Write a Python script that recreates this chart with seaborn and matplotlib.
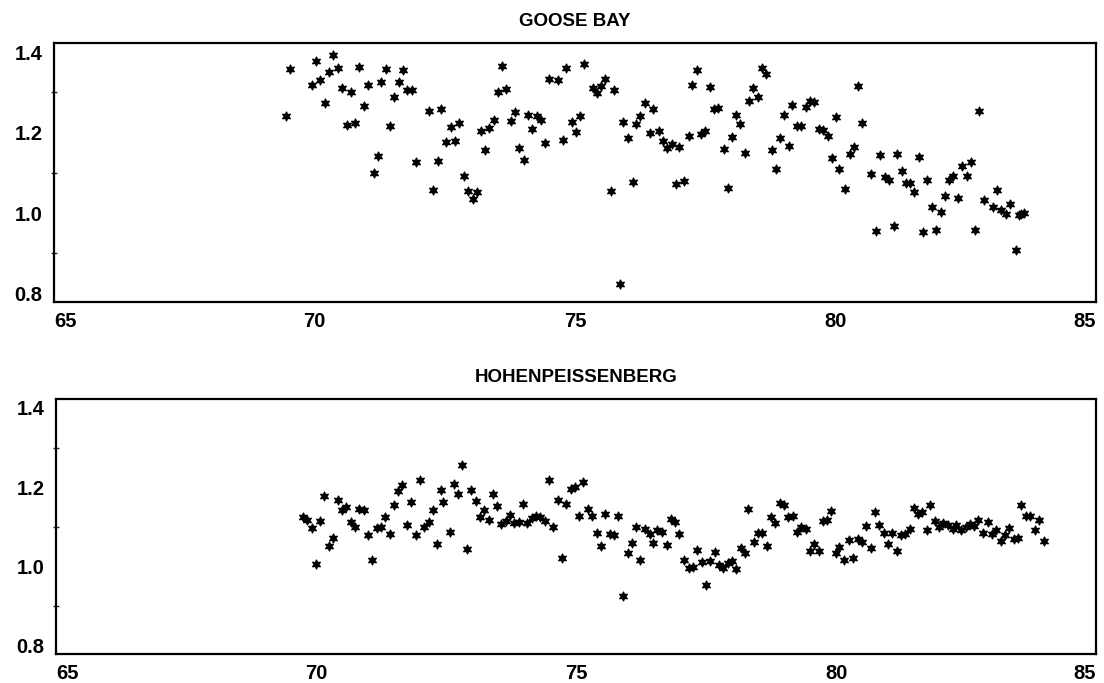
import numpy as np
import pandas as pd
import matplotlib
matplotlib.use("Agg")
import matplotlib.pyplot as plt
import seaborn as sns

# %% data (year - 1900, ratio)

goose_x = [69.45, 69.53, 69.94, 70.03, 70.11, 70.20, 70.28, 70.36, 70.44, 70.53,
           70.62, 70.70, 70.78, 70.86, 70.95, 71.03, 71.13, 71.21, 71.28, 71.36,
           71.45, 71.53, 71.61, 71.69, 71.77, 71.86, 71.95, 72.19, 72.28, 72.37,
           72.43, 72.52, 72.61, 72.69, 72.77, 72.86, 72.95, 73.03, 73.12, 73.19,
           73.27, 73.35, 73.44, 73.52, 73.59, 73.68, 73.77, 73.85, 73.93, 74.01,
           74.09, 74.18, 74.26, 74.34, 74.43, 74.50, 74.67, 74.76, 74.83, 74.93,
           75.01, 75.09, 75.16, 75.34, 75.42, 75.50, 75.58, 75.68, 75.74, 75.86,
           75.92, 76.01, 76.10, 76.17, 76.24, 76.34, 76.43, 76.50, 76.60, 76.68,
           76.76, 76.85, 76.93, 77.00, 77.09, 77.18, 77.25, 77.33, 77.42, 77.50,
           77.58, 77.67, 77.75, 77.85, 77.93, 78.01, 78.09, 78.17, 78.26, 78.34,
           78.42, 78.51, 78.59, 78.67, 78.77, 78.85, 78.93, 79.01, 79.10, 79.17,
           79.26, 79.34, 79.42, 79.50, 79.59, 79.68, 79.76, 79.85, 79.93, 80.01,
           80.06, 80.18, 80.27, 80.35, 80.43, 80.51, 80.68, 80.78, 80.85, 80.94,
           81.02, 81.11, 81.18, 81.27, 81.34, 81.43, 81.51, 81.59, 81.68, 81.76,
           81.84, 81.93, 82.02, 82.09, 82.18, 82.26, 82.35, 82.42, 82.51, 82.60,
           82.68, 82.75, 82.85, 83.02, 83.10, 83.18, 83.26, 83.35, 83.45, 83.52,
           83.56, 83.62]
goose_y = [1.242, 1.358, 1.319, 1.378, 1.331, 1.275, 1.351, 1.393, 1.361, 1.310,
           1.218, 1.300, 1.224, 1.363, 1.266, 1.319, 1.099, 1.141, 1.327, 1.358,
           1.217, 1.289, 1.326, 1.355, 1.307, 1.307, 1.128, 1.253, 1.058, 1.130,
           1.258, 1.178, 1.213, 1.180, 1.225, 1.091, 1.056, 1.035, 1.053, 1.205,
           1.157, 1.212, 1.232, 1.302, 1.365, 1.308, 1.230, 1.251, 1.161, 1.133,
           1.245, 1.209, 1.242, 1.232, 1.174, 1.333, 1.330, 1.181, 1.362, 1.227,
           1.202, 1.242, 1.372, 1.312, 1.298, 1.316, 1.334, 1.054, 1.305, 0.824,
           1.227, 1.187, 1.077, 1.222, 1.242, 1.273, 1.199, 1.260, 1.205, 1.179,
           1.163, 1.172, 1.073, 1.165, 1.079, 1.192, 1.318, 1.355, 1.197, 1.205,
           1.314, 1.258, 1.262, 1.159, 1.062, 1.189, 1.244, 1.222, 1.149, 1.278,
           1.311, 1.289, 1.362, 1.346, 1.157, 1.109, 1.187, 1.243, 1.167, 1.268,
           1.216, 1.216, 1.263, 1.280, 1.276, 1.208, 1.206, 1.191, 1.137, 1.238,
           1.109, 1.059, 1.148, 1.165, 1.315, 1.225, 1.098, 0.955, 1.145, 1.089,
           1.082, 0.967, 1.146, 1.104, 1.076, 1.074, 1.053, 1.139, 0.952, 1.083,
           1.014, 0.959, 1.003, 1.043, 1.081, 1.093, 1.038, 1.118, 1.093, 1.126,
           0.959, 1.253, 1.033, 1.015, 1.057, 1.008, 0.998, 1.022, 0.907, 0.994,
           0.998, 1.001]

hohen_x = [69.74, 69.82, 69.91, 69.99, 70.08, 70.15, 70.24, 70.32, 70.41, 70.50,
           70.58, 70.66, 70.74, 70.83, 70.91, 70.99, 71.08, 71.16, 71.24, 71.32,
           71.41, 71.49, 71.57, 71.65, 71.74, 71.83, 71.91, 71.99, 72.07, 72.16,
           72.24, 72.32, 72.39, 72.43, 72.57, 72.65, 72.73, 72.81, 72.90, 72.98,
           73.07, 73.15, 73.23, 73.32, 73.40, 73.48, 73.56, 73.65, 73.73, 73.81,
           73.89, 73.98, 74.06, 74.14, 74.22, 74.31, 74.39, 74.47, 74.56, 74.64,
           74.73, 74.80, 74.89, 74.97, 75.06, 75.13, 75.22, 75.31, 75.39, 75.48,
           75.56, 75.65, 75.73, 75.80, 75.90, 75.99, 76.07, 76.15, 76.22, 76.32,
           76.41, 76.48, 76.56, 76.65, 76.74, 76.82, 76.90, 76.98, 77.07, 77.16,
           77.25, 77.33, 77.41, 77.49, 77.58, 77.66, 77.74, 77.82, 77.91, 78.00,
           78.08, 78.16, 78.24, 78.31, 78.41, 78.49, 78.57, 78.66, 78.74, 78.82,
           78.91, 78.99, 79.07, 79.16, 79.24, 79.32, 79.41, 79.49, 79.58, 79.66,
           79.74, 79.82, 79.90, 79.99, 80.06, 80.15, 80.25, 80.33, 80.41, 80.50,
           80.57, 80.66, 80.74, 80.82, 80.91, 80.99, 81.08, 81.16, 81.24, 81.33,
           81.41, 81.49, 81.57, 81.65, 81.74, 81.81, 81.90, 81.98, 82.06, 82.15,
           82.24, 82.31, 82.40, 82.49, 82.57, 82.65, 82.73, 82.82, 82.91, 82.99,
           83.07, 83.16, 83.25, 83.33, 83.41, 83.49, 83.56, 83.65, 83.73, 83.82,
           83.90, 83.99]
hohen_y = [1.124, 1.118, 1.098, 1.007, 1.114, 1.179, 1.051, 1.072, 1.167, 1.142,
           1.150, 1.112, 1.100, 1.146, 1.144, 1.080, 1.017, 1.098, 1.100, 1.126,
           1.083, 1.155, 1.191, 1.207, 1.105, 1.164, 1.079, 1.219, 1.099, 1.112,
           1.143, 1.058, 1.194, 1.163, 1.087, 1.208, 1.182, 1.257, 1.044, 1.192,
           1.165, 1.124, 1.143, 1.118, 1.183, 1.152, 1.107, 1.115, 1.131, 1.111,
           1.112, 1.157, 1.109, 1.123, 1.128, 1.125, 1.114, 1.218, 1.099, 1.169,
           1.022, 1.159, 1.197, 1.202, 1.127, 1.213, 1.146, 1.127, 1.086, 1.052,
           1.133, 1.082, 1.080, 1.128, 0.925, 1.034, 1.060, 1.100, 1.018, 1.096,
           1.083, 1.059, 1.092, 1.087, 1.054, 1.120, 1.112, 1.082, 1.017, 0.996,
           1.000, 1.041, 1.011, 0.953, 1.015, 1.038, 1.003, 0.996, 1.009, 1.013,
           0.993, 1.048, 1.035, 1.145, 1.062, 1.086, 1.085, 1.051, 1.124, 1.110,
           1.160, 1.156, 1.126, 1.128, 1.087, 1.100, 1.094, 1.039, 1.058, 1.040,
           1.114, 1.118, 1.141, 1.035, 1.050, 1.017, 1.068, 1.021, 1.070, 1.063,
           1.103, 1.047, 1.137, 1.106, 1.084, 1.058, 1.086, 1.040, 1.080, 1.083,
           1.094, 1.149, 1.132, 1.139, 1.092, 1.155, 1.114, 1.099, 1.110, 1.104,
           1.094, 1.104, 1.093, 1.100, 1.107, 1.103, 1.118, 1.084, 1.112, 1.083,
           1.092, 1.064, 1.081, 1.097, 1.070, 1.072, 1.156, 1.127, 1.127, 1.093,
           1.117, 1.064]

stations = ["GOOSE BAY", "HOHENPEISSENBERG"]
x_ticks = [65, 70, 75, 80, 85]
y_ticks = [0.8, 1.0, 1.2, 1.4]
y_minor = [0.9, 1.1, 1.3]

# %% PLOT

sns.set_style("white")
plt.rcParams['font.family'] = ['Liberation Sans', 'DejaVu Sans']
plt.rcParams['font.weight'] = 'bold'
plt.rcParams['text.color'] = 'black'

fig = plt.figure(figsize=(11.04, 6.83), dpi=100)
ax1 = fig.add_axes([0.049, 0.558, 0.944, 0.379])
ax2 = fig.add_axes([0.051, 0.042, 0.942, 0.374])

panels = [(ax1, goose_x, goose_y), (ax2, hohen_x, hohen_y)]
for (ax, xs, ys), name in zip(panels, stations):
    df = pd.DataFrame({'year': xs, 'value': ys})
    sns.scatterplot(data=df, x='year', y='value', ax=ax, marker=(6, 1, 0),
                    s=42, color='black', edgecolor='black', linewidth=0.9)
    ax.set_xlim(65.05, 84.98)
    ax.set_ylim(0.779, 1.423)
    ax.set_xticks(x_ticks)
    ax.set_yticks(y_ticks)
    ax.set_yticks(y_minor, minor=True)
    ax.set_yticklabels(['0.8', '1.0', '1.2', '1.4'])
    ax.set_xlabel('')
    ax.set_ylabel('')
    ax.set_title(name, fontsize=13.5, fontweight='bold', pad=12, color='black')
    for sp in ax.spines.values():
        sp.set_visible(True)
        sp.set_linewidth(1.6)
        sp.set_color('black')
    ax.tick_params(axis='x', direction='in', length=6, width=1.4,
                   pad=7, labelsize=14.5, colors='black')
    ax.tick_params(axis='y', which='major', direction='inout', length=5,
                   width=1.0, pad=6, labelsize=14.5, colors='black')
    ax.tick_params(axis='y', which='minor', direction='inout', length=4,
                   width=1.0, left=True)
    labs = ax.get_xticklabels()
    labs[0].set_ha('left')
    labs[-1].set_ha('right')
    for t in ax.get_xticklabels() + ax.get_yticklabels():
        t.set_fontweight('bold')

fig.savefig('out.png', dpi=100)
plt.close()
